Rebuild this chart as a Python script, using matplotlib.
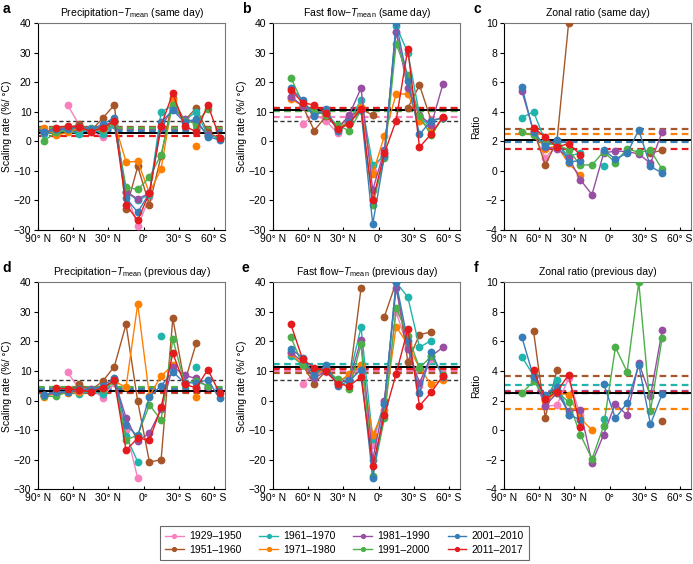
import numpy as np
import matplotlib
matplotlib.use("Agg")
import matplotlib.pyplot as plt

nan = np.nan

# band centres (deg, positive = north)
lats = [85, 75, 65, 55, 45, 35, 25, 15, 5, -5, -15, -25, -35, -45, -55, -65]

periods = ["1929\u20131950", "1951\u20131960", "1961\u20131970", "1971\u20131980",
           "1981\u20131990", "1991\u20132000", "2001\u20132010", "2011\u20132017"]
colors = ["#f781bf", "#a65628", "#1fb5ad", "#ff7f00",
          "#984ea3", "#4daf4a", "#377eb8", "#e41a1c"]

# rows follow `periods`
precip_same = [
    [nan, nan, 12.3, 5.5, 3.5, 1.5, 6.0, -17.0, -28.8, -19.0, nan, nan, nan, nan, nan, nan],
    [3.0, 3.0, 4.0, 6.0, 3.5, 7.8, 12.3, -23.0, -8.5, -21.5, -5.0, 14.5, 7.0, 11.3, 3.0, 1.0],
    [2.5, 3.0, 3.5, 2.5, 4.5, 2.4, 5.5, -17.0, -20.0, -18.0, 10.0, 12.0, 7.0, 10.0, 2.0, 1.0],
    [4.5, 2.0, 3.0, 4.5, 3.5, 4.0, 6.5, -7.0, -6.8, -17.5, -9.3, 14.0, nan, -1.5, nan, nan],
    [3.0, 4.0, 4.5, 5.0, 4.0, 5.0, 7.0, -17.0, -19.5, -17.5, 5.0, 11.0, 7.5, 6.5, 2.0, nan],
    [0.2, 3.0, 4.0, 5.0, 4.0, 4.0, 6.5, -15.5, -16.3, -12.2, -4.5, 12.2, 7.0, 6.0, 11.0, nan],
    [3.0, 4.0, 4.0, 5.0, 4.0, 5.7, 8.0, -19.2, -24.0, -17.5, 6.5, 10.5, 6.5, 7.5, 1.5, 0.5],
    [nan, 4.6, 5.2, 4.8, 3.3, 4.5, 6.8, -21.5, -26.7, -17.5, 5.3, 16.3, 5.2, 3.2, 12.3, 1.2],
]
flow_same = [
    [nan, nan, 5.8, 9.0, 7.0, 2.7, 8.0, 11.0, -10.0, -4.0, 37.0, 22.0, 7.0, 6.0, nan, nan],
    [nan, nan, 12.0, 3.6, 8.5, 5.0, 8.0, 11.0, 8.8, nan, nan, 11.2, 19.0, 7.0, 8.0, nan],
    [nan, 15.0, 12.0, 9.0, 10.0, 4.0, 7.0, 14.0, -8.0, -5.0, 39.0, 30.0, 9.0, 4.0, nan, nan],
    [nan, 14.3, 12.0, 10.0, 9.0, 5.0, 6.0, 11.5, -11.0, 1.8, 16.0, 16.0, 7.0, 4.0, nan, nan],
    [nan, 15.0, 12.0, 10.0, 9.5, 4.0, 9.0, 18.0, -16.5, -3.0, 37.0, 18.0, 9.0, 5.5, 19.3, nan],
    [nan, 21.5, 13.0, 10.0, 9.0, 5.5, 3.5, 10.5, -21.5, -5.5, 33.0, 22.5, 8.5, 2.0, 8.0, nan],
    [nan, 18.0, 14.0, 8.5, 11.0, 3.5, 6.5, 10.5, -28.0, -5.0, 40.0, 20.5, 2.3, 7.0, 7.8, nan],
    [nan, 17.5, 13.0, 12.3, 9.5, 4.0, 6.0, 11.0, -20.0, -4.0, 7.0, 31.3, -2.0, 2.5, 8.2, nan],
]
ratio_same = [
    [nan, nan, 2.5, 0.9, 1.7, nan, nan, nan, nan, nan, nan, nan, nan, nan, nan, nan],
    [nan, nan, 2.8, 0.4, 2.0, 10.0, nan, nan, nan, nan, nan, nan, 1.2, 1.4, nan, nan],
    [nan, 3.6, 4.0, 2.0, 1.8, 1.0, 1.2, nan, 0.35, nan, nan, nan, nan, nan, nan, nan],
    [nan, nan, 2.6, 1.5, 1.7, 0.5, -0.3, nan, nan, nan, nan, nan, nan, nan, nan, nan],
    [nan, 5.4, 2.7, 1.6, 1.5, 0.9, -0.6, -1.6, 1.2, 1.35, 1.3, 1.15, 0.5, 2.65, nan, nan],
    [nan, 2.6, 2.4, 1.8, 1.8, 1.4, 0.4, 0.4, 1.3, 0.55, 1.5, 1.25, 1.4, 0.1, nan, nan],
    [nan, 5.7, 2.6, 1.7, 2.1, 0.6, 0.7, nan, 1.4, 0.8, 1.2, 2.75, 0.3, -0.15, nan, nan],
    [nan, nan, 2.9, 2.3, 1.6, 1.85, 1.1, nan, nan, nan, nan, nan, nan, nan, nan, nan],
]
precip_prev = [
    [nan, nan, 9.5, 4.0, 4.0, 1.0, 6.0, -10.0, -26.3, nan, nan, nan, nan, nan, nan, nan],
    [nan, nan, 3.0, 5.5, 3.5, 6.5, 11.5, 25.8, -0.3, -20.8, -20.0, 27.8, 6.0, 19.4, nan, nan],
    [2.0, 2.5, 3.0, 2.3, 3.0, 2.3, 7.0, -12.0, -20.7, nan, 22.0, nan, nan, 11.5, nan, nan],
    [1.2, 2.5, 2.7, 3.0, 3.5, 4.0, 6.5, 4.5, 32.7, 1.5, 8.3, 12.0, nan, 1.3, nan, nan],
    [2.0, 2.5, 3.0, 3.5, 4.0, 4.0, 7.0, -5.8, -13.7, -11.0, -3.0, 11.5, 8.5, 7.5, 4.5, nan],
    [1.5, 1.4, 3.0, 4.0, 3.5, 4.0, 6.5, -13.3, -11.7, -1.5, -6.5, 20.8, 6.0, 6.5, 5.0, nan],
    [2.0, 3.0, 3.0, 4.0, 3.5, 5.0, 7.5, -8.3, -12.0, 1.3, 5.0, 9.7, 6.0, 6.0, 7.0, 0.7],
    [nan, 4.2, 4.0, 3.5, 3.0, 4.3, 6.8, -16.8, -12.7, -13.4, -2.3, 16.0, 5.5, 4.3, 10.5, 2.5],
]
flow_prev = [
    [nan, nan, 5.7, 9.0, 9.5, 6.0, 7.0, 12.0, -15.0, 0.0, 30.0, 18.0, 5.0, 14.0, nan, nan],
    [nan, nan, 12.0, 5.7, 10.0, 6.0, 7.0, 38.0, nan, 28.4, 40.0, 13.2, 22.3, 23.2, nan, nan],
    [nan, 15.2, 12.0, 9.0, 11.0, 6.5, 8.0, 24.8, -13.0, -1.0, 40.0, 35.0, 18.0, 20.3, nan, nan],
    [nan, 16.0, 12.0, 9.0, 10.5, 6.0, 9.0, 12.0, -11.5, -3.3, 25.0, 19.0, 11.0, 5.5, 7.0, nan],
    [nan, 16.5, 13.0, 7.5, 10.0, 6.0, 7.0, 20.5, -20.0, 0.0, 38.0, 17.5, 6.0, 15.0, 18.0, nan],
    [nan, 21.5, 12.0, 10.0, 10.5, 7.2, 4.0, 19.0, -25.5, -6.0, 31.3, 22.0, 11.0, 15.0, 8.5, nan],
    [nan, 17.5, 14.5, 8.5, 12.0, 5.0, 6.6, 10.5, -26.3, -1.3, 40.0, 20.0, 2.4, 16.5, 8.0, nan],
    [nan, 25.8, 14.0, 11.0, 10.0, 5.6, 5.0, 8.0, -22.0, -5.0, 9.0, 24.2, -1.8, 2.8, 8.3, nan],
]
ratio_prev = [
    [nan, nan, nan, 1.6, 1.7, 3.5, 1.0, nan, nan, nan, nan, nan, nan, nan, nan, nan],
    [nan, nan, 6.7, 0.85, 4.05, nan, nan, nan, nan, nan, nan, nan, nan, 0.6, nan, nan],
    [nan, 4.95, 3.7, 2.1, 3.4, 1.0, nan, nan, 0.75, nan, nan, nan, nan, nan, nan, nan],
    [nan, nan, nan, 2.0, 2.5, 2.4, 0.8, 0.0, nan, nan, nan, nan, nan, nan, nan, nan],
    [nan, nan, 3.6, 1.65, 2.5, 1.3, 1.35, -2.2, -0.3, 1.8, 1.0, 4.55, 2.3, 6.75, nan, nan],
    [nan, 2.5, 3.3, 2.3, 2.6, 1.9, -0.3, -1.95, 0.3, 5.6, 3.95, 10.0, 1.3, 6.25, nan, nan],
    [nan, 6.3, 3.6, 2.4, 2.9, 1.05, 0.7, nan, 3.15, 0.8, 1.85, 4.4, 0.4, 2.45, nan, nan],
    [nan, nan, 4.05, 2.1, 2.6, 3.75, 0.2, nan, nan, nan, nan, nan, nan, nan, nan, nan],
]

# period means (dashed), overall mean (black), Clausius-Clapeyron reference
means_precip_same = [4.8, 5.0, 3.8, 4.3, 4.0, 4.6, 3.5, 1.8]
means_flow_same = [8.2, 11.2, 10.8, 10.2, 10.6, 10.4, 10.5, 11.2]
means_ratio_same = [2.0, 2.8, 2.0, 2.5, 2.0, 2.05, 1.95, 1.5]
means_precip_prev = [2.8, 2.4, 4.3, 4.0, 3.6, 4.7, 3.8, 2.9]
means_flow_prev = [10.0, 9.4, 12.3, 11.0, 11.3, 11.4, 11.1, 10.8]
means_ratio_prev = [2.5, 3.65, 3.05, 1.4, 2.65, 2.5, 2.5, 2.6]
overall = [2.7, 10.5, 2.1, 3.2, 11.2, 2.5]
cc_rate = 6.8

plt.rcParams["font.family"] = ["Liberation Sans", "DejaVu Sans"]
plt.rcParams["font.size"] = 7.5
plt.rcParams["mathtext.fontset"] = "custom"
plt.rcParams["mathtext.it"] = "Liberation Sans:italic"
plt.rcParams["mathtext.rm"] = "Liberation Sans"

fig = plt.figure(figsize=(6.93, 5.64), dpi=100)

panels = [
    ("a", r"Precipitation$-$$T_{\rm mean}$ (same day)", precip_same, means_precip_same, True),
    ("b", r"Fast flow$-$$T_{\rm mean}$ (same day)", flow_same, means_flow_same, True),
    ("c", "Zonal ratio (same day)", ratio_same, means_ratio_same, False),
    ("d", r"Precipitation$-$$T_{\rm mean}$ (previous day)", precip_prev, means_precip_prev, True),
    ("e", r"Fast flow$-$$T_{\rm mean}$ (previous day)", flow_prev, means_flow_prev, True),
    ("f", "Zonal ratio (previous day)", ratio_prev, means_ratio_prev, False),
]
lefts = [0.0553, 0.3944, 0.7277]
bottoms = [0.5922, 0.1325]
w, h = 0.270, 0.367
letter_x = [0.004, 0.349, 0.683]
letter_y = [0.997, 0.538]

handles = []
for i, (letter, title, data, means, rate) in enumerate(panels):
    row, col = divmod(i, 3)
    ax = fig.add_axes([lefts[col], bottoms[row], w, h])

    for m, c in zip(means, colors):
        ax.axhline(m, color=c, lw=1.6, ls=(0, (3, 2)), zorder=1)
    if rate:
        ax.axhline(cc_rate, color="#333333", lw=1.0, ls=(0, (3, 2)), zorder=1)
    ax.axhline(overall[i], color="black", lw=1.4, zorder=1.5)

    for vals, c, p in zip(data, colors, periods):
        ln, = ax.plot(lats, vals, "-o", color=c, lw=1.0, ms=4.6, label=p, zorder=3)
        if i == 0:
            handles.append(ln)

    ax.set_xlim(90, -70)
    ax.set_xticks([90, 60, 30, 0, -30, -60])
    ax.set_xticklabels(["90\u00b0 N", "60\u00b0 N", "30\u00b0 N", "0\u00b0",
                        "30\u00b0 S", "60\u00b0 S"])
    if rate:
        ax.set_ylim(-30, 40)
        ax.set_yticks(range(-30, 41, 10))
        ax.set_ylabel("Scaling rate (%/ \u00b0C)", labelpad=1)
    else:
        ax.set_ylim(-4, 10)
        ax.set_yticks(range(-4, 11, 2))
        ax.set_ylabel("Ratio", labelpad=3)
    ax.set_yticklabels([str(t).replace("-", "\u2212") for t in ax.get_yticks().astype(int)])
    ax.tick_params(axis="x", direction="in", length=2.5, pad=3)
    ax.tick_params(axis="y", direction="out", length=3, pad=2)
    for s in ["top", "right"]:
        ax.spines[s].set_color("#777777")
    ax.set_title(title, fontsize=7.5, pad=5)
    fig.text(letter_x[col], letter_y[row], letter, fontsize=10, fontweight="bold",
             va="top", ha="left")

leg = fig.legend(handles=handles, loc="center", bbox_to_anchor=(0.497, 0.037),
                 ncol=4, frameon=True, fancybox=False, fontsize=7.5,
                 handlelength=1.8, handletextpad=0.5, columnspacing=1.7,
                 markerscale=0.6, borderpad=0.5, labelspacing=0.35)
leg.get_frame().set_edgecolor("#444444")
leg.get_frame().set_linewidth(0.8)

fig.savefig("out.png", dpi=100)
